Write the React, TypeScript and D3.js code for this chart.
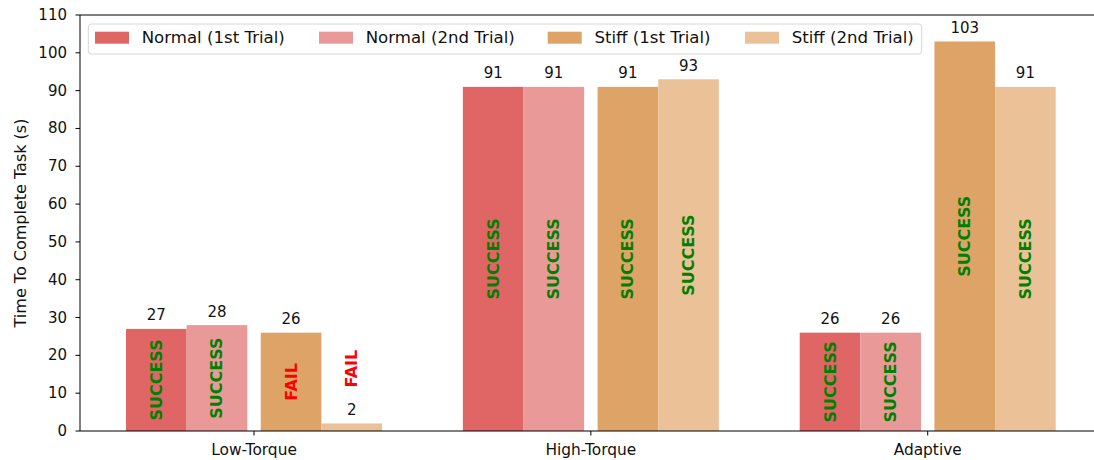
import React from "react";
import * as d3 from "d3";

const categories = ["Low-Torque", "High-Torque", "Adaptive"];
const seriesNames = ["Normal (1st Trial)", "Normal (2nd Trial)", "Stiff (1st Trial)", "Stiff (2nd Trial)"];
const normal1 = [27, 91, 26];
const normal2 = [28, 91, 26];
const stiff1 = [26, 91, 103];
const stiff2 = [2, 93, 91];
const normal1Status = ["SUCCESS", "SUCCESS", "SUCCESS"];
const normal2Status = ["SUCCESS", "SUCCESS", "SUCCESS"];
const stiff1Status = ["FAIL", "SUCCESS", "SUCCESS"];
const stiff2Status = ["FAIL", "SUCCESS", "SUCCESS"];
const yTicks = [0, 10, 20, 30, 40, 50, 60, 70, 80, 90, 100, 110];

const colors = ["#e06666", "#ea9999", "#dea367", "#ebc198"];
const offsets = [-0.29, -0.11, 0.11, 0.29];
const barWidth = 0.18;

const W = 1094;
const H = 460;
const left = 80;
const top = 15;
const bottom = 431;
const FONT = "DejaVu Sans, sans-serif";

export default function App() {
  const x = d3.scaleLinear().domain([-0.5166, 2.5184]).range([left, left + 3.035 * 336.85]);
  const y = d3.scaleLinear().domain([0, 110]).range([bottom, top]);
  const series = [normal1, normal2, stiff1, stiff2];
  const statuses = [normal1Status, normal2Status, stiff1Status, stiff2Status];
  const bw = x(barWidth) - x(0);
  const legendCols = [95, 319, 547.7, 745];

  return (
    <svg width={W} height={H} style={{ position: "absolute", left: 0, top: 0, background: "#fff" }} fontFamily={FONT}>
      <rect x={0} y={0} width={W} height={H} fill="#fff" />
      {series.map((vals, si) =>
        vals.map((v, ci) => {
          const cx = x(ci + offsets[si]);
          return (
            <rect key={`b${si}-${ci}`} x={cx - bw / 2} y={y(v)} width={bw} height={bottom - y(v)} fill={colors[si]} />
          );
        })
      )}
      {series.map((vals, si) =>
        vals.map((v, ci) => {
          const cx = x(ci + offsets[si]);
          const st = statuses[si][ci];
          const sy = v < 10 ? y(v + 14.5) : y(v / 2);
          return (
            <g key={`t${si}-${ci}`}>
              <text x={cx} y={y(v) - 8.5} textAnchor="middle" fontSize={15} fill="#111">{v}</text>
              <text
                transform={`translate(${cx},${sy}) rotate(-90)`}
                textAnchor="middle"
                dominantBaseline="central"
                fontSize={16}
                fontWeight="bold"
                fill={st === "SUCCESS" ? "#008000" : "#ff0000"}
              >
                {st}
              </text>
            </g>
          );
        })
      )}
      {/* axes */}
      <line x1={left} y1={top} x2={W} y2={top} stroke="#000" strokeWidth={1} />
      <line x1={left} y1={bottom} x2={W} y2={bottom} stroke="#000" strokeWidth={1} />
      <line x1={left} y1={top} x2={left} y2={bottom} stroke="#000" strokeWidth={1} />
      {yTicks.map((t) => (
        <g key={`y${t}`}>
          <line x1={left - 4.5} x2={left} y1={y(t)} y2={y(t)} stroke="#000" />
          <text x={left - 13} y={y(t)} textAnchor="end" dominantBaseline="central" fontSize={15} fill="#111">{t}</text>
        </g>
      ))}
      {categories.map((c, i) => (
        <g key={`x${c}`}>
          <line x1={x(i)} x2={x(i)} y1={bottom} y2={bottom + 4.5} stroke="#000" />
          <text x={x(i)} y={454.5} textAnchor="middle" fontSize={15.4} fill="#111">{c}</text>
        </g>
      ))}
      <text transform={`translate(20.5,${(top + bottom) / 2}) rotate(-90)`} textAnchor="middle" dominantBaseline="central" fontSize={16} fill="#111">
        Time To Complete Task (s)
      </text>
      {/* legend */}
      <rect x={88.3} y={24} width={833.4} height={30} rx={3} fill="#fff" fillOpacity={0.8} stroke="#d6d6d6" strokeWidth={1} />
      {seriesNames.map((n, i) => (
        <g key={`l${n}`}>
          <rect x={legendCols[i]} y={31.7} width={34} height={12} fill={colors[i]} />
          <text x={legendCols[i] + 46.7} y={37.7} dominantBaseline="central" fontSize={16.6} fill="#111">{n}</text>
        </g>
      ))}
    </svg>
  );
}
